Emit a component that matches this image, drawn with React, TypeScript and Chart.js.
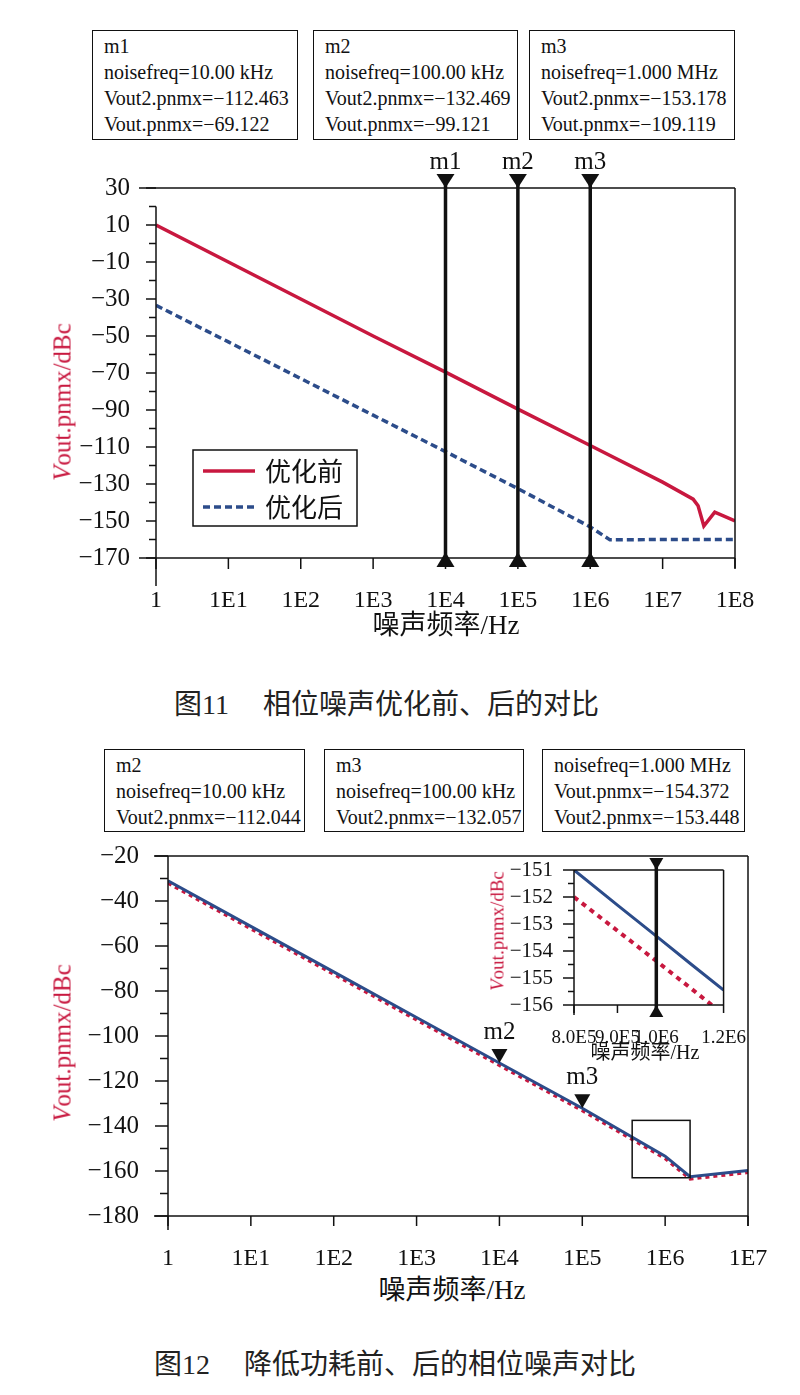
import React, { useEffect, useRef } from 'react';
import { Chart, registerables } from 'chart.js';

Chart.register(...registerables);

const SERIF = '"Liberation Serif", "Times New Roman", serif';
const MIXED = '"Liberation Serif", "Noto Sans CJK SC", serif';
const CJK = '"Noto Sans CJK SC", sans-serif';
const RED = '#c8183f';
const BLUE = '#2c4c8a';
const INK = '#111111';

// ---------------- 图11 data ----------------
const fig11FreqBefore = [1, 10, 100, 1e3, 1e4, 1e5, 1e6, 1e7, 2.64e7, 3.09e7, 3.71e7, 5.25e7, 1e8];
const fig11Before = [10, -10, -30, -50, -69.5, -89.5, -109.2, -129, -138.2, -141.8, -152.7, -145.2, -150];
const fig11FreqAfter = [1, 10, 100, 1e3, 1e4, 1e5, 1e6, 1.87e6, 1e7, 1e8];
const fig11After = [-33.4, -53.2, -73, -92.8, -112.5, -132.5, -153.2, -160.2, -160, -160];
const fig11YTicks = [30, 10, -10, -30, -50, -70, -90, -110, -130, -150, -170];
const fig11YMinor = [20, 0, -20, -40, -60, -80, -100, -120, -140, -160];
const fig11XTicks = [1, 10, 100, 1e3, 1e4, 1e5, 1e6, 1e7, 1e8];
const fig11XLabels = ['1', '1E1', '1E2', '1E3', '1E4', '1E5', '1E6', '1E7', '1E8'];
const fig11MarkerFreq = [1e4, 1e5, 1e6];
const fig11MarkerNames = ['m1', 'm2', 'm3'];
const fig11Legend = ['优化前', '优化后'];
const fig11Readouts = [
  ['m1', 'noisefreq=10.00 kHz', 'Vout2.pnmx=−112.463', 'Vout.pnmx=−69.122'],
  ['m2', 'noisefreq=100.00 kHz', 'Vout2.pnmx=−132.469', 'Vout.pnmx=−99.121'],
  ['m3', 'noisefreq=1.000 MHz', 'Vout2.pnmx=−153.178', 'Vout.pnmx=−109.119'],
];

// ---------------- 图12 data ----------------
const fig12Freq = [1, 10, 100, 1e3, 1e4, 1e5, 1e6, 2e6, 1e7];
const fig12Vout2 = [-31, -51.3, -71.5, -91.8, -112, -132.1, -153.4, -162.5, -159.8];
const fig12Vout = [-32, -52.3, -72.5, -92.8, -113, -133.1, -154.4, -163.5, -160.6];
const fig12YTicks = [-20, -40, -60, -80, -100, -120, -140, -160, -180];
const fig12YMinor = [-30, -50, -70, -90, -110, -130, -150, -170];
const fig12XTicks = [1, 10, 100, 1e3, 1e4, 1e5, 1e6, 1e7];
const fig12XLabels = ['1', '1E1', '1E2', '1E3', '1E4', '1E5', '1E6', '1E7'];
const fig12MarkerFreq = [1e4, 1e5];
const fig12MarkerVal = [-112.044, -132.057];
const fig12MarkerNames = ['m2', 'm3'];
const fig12ZoomFreq = [4e5, 2e6];
const fig12ZoomVal = [-137.5, -163];
const fig12Readouts = [
  ['m2', 'noisefreq=10.00 kHz', 'Vout2.pnmx=−112.044'],
  ['m3', 'noisefreq=100.00 kHz', 'Vout2.pnmx=−132.057'],
  ['noisefreq=1.000 MHz', 'Vout.pnmx=−154.372', 'Vout2.pnmx=−153.448'],
];

// ---------------- 图12 inset data ----------------
const insetFreq = [8e5, 9e5, 1e6, 1.1e6, 1.2e6];
const insetVout2 = [-151.0, -152.3, -153.45, -154.5, -155.45];
const insetVout = [-152.0, -153.25, -154.37, -155.4, -156.35];
const insetYTicks = [-151, -152, -153, -154, -155, -156];
const insetYMinor = [-151.5, -152.5, -153.5, -154.5, -155.5];
const insetXTicks = [8e5, 9e5, 1e6, 1.2e6];
const insetXLabels = ['8.0E5', '9.0E5', '1.0E6', '1.2E6'];
const insetMarkerFreq = 1e6;

const minus = (v: number) => String(v).replace('-', '−');
const pts = (xs: number[], ys: number[]) => xs.map((x, i) => ({ x, y: ys[i] }));

function seg(ctx: CanvasRenderingContext2D, x1: number, y1: number, x2: number, y2: number) {
  ctx.beginPath();
  ctx.moveTo(x1, y1);
  ctx.lineTo(x2, y2);
  ctx.stroke();
}
function tri(ctx: CanvasRenderingContext2D, x: number, tipY: number, baseY: number, half: number) {
  ctx.beginPath();
  ctx.moveTo(x, tipY);
  ctx.lineTo(x - half, baseY);
  ctx.lineTo(x + half, baseY);
  ctx.closePath();
  ctx.fill();
}

const fig11Decor = {
  id: 'fig11Decor',
  afterDatasetsDraw(chart: any) {
    const { ctx, chartArea: a, scales } = chart;
    const x = scales.x, y = scales.y;
    ctx.save();
    ctx.strokeStyle = INK; ctx.fillStyle = INK; ctx.lineWidth = 1.5;
    seg(ctx, a.left - 17, a.top, a.right, a.top);
    seg(ctx, a.left - 17, a.bottom, a.right, a.bottom);
    seg(ctx, a.left, y.getPixelForValue(20), a.left, a.bottom + 28);
    seg(ctx, a.right, a.top, a.right, a.bottom + 10);
    fig11YTicks.forEach(v => { const p = y.getPixelForValue(v); seg(ctx, a.left - 10, p, a.left, p); });
    fig11YMinor.forEach(v => { const p = y.getPixelForValue(v); seg(ctx, a.left - 7, p, a.left, p); });
    fig11XTicks.forEach(v => { const p = x.getPixelForValue(v); seg(ctx, p, a.bottom, p, a.bottom + 11); });
    // markers
    ctx.lineWidth = 3.5;
    ctx.font = `25px ${SERIF}`; ctx.textAlign = 'center'; ctx.textBaseline = 'middle';
    fig11MarkerFreq.forEach((f, i) => {
      const p = x.getPixelForValue(f);
      seg(ctx, p, a.top - 8, p, a.bottom + 6);
      tri(ctx, p, a.top, a.top - 14, 9);
      tri(ctx, p, a.bottom - 6, a.bottom + 9, 9);
      ctx.fillText(fig11MarkerNames[i], p, a.top - 26);
    });
    // legend
    const lx = a.left + 37, ly = a.top + 262, lw = 164, lh = 76;
    ctx.fillStyle = '#ffffff';
    ctx.fillRect(lx, ly, lw, lh);
    ctx.lineWidth = 1.5; ctx.strokeStyle = INK;
    ctx.strokeRect(lx, ly, lw, lh);
    ctx.lineWidth = 3.5;
    ctx.strokeStyle = RED;
    seg(ctx, lx + 10, ly + 21, lx + 62, ly + 21);
    ctx.strokeStyle = BLUE; ctx.setLineDash([7, 4]);
    seg(ctx, lx + 10, ly + 57, lx + 62, ly + 57);
    ctx.setLineDash([]);
    ctx.fillStyle = INK; ctx.textAlign = 'left';
    ctx.font = `26px ${CJK}`;
    ctx.fillText(fig11Legend[0], lx + 72, ly + 21);
    ctx.fillText(fig11Legend[1], lx + 72, ly + 57);
    ctx.restore();
  },
};

const fig12Decor = {
  id: 'fig12Decor',
  afterDatasetsDraw(chart: any) {
    const { ctx, chartArea: a, scales } = chart;
    const x = scales.x, y = scales.y;
    ctx.save();
    ctx.strokeStyle = INK; ctx.fillStyle = INK; ctx.lineWidth = 1.5;
    seg(ctx, a.left - 14, a.top, a.right, a.top);
    seg(ctx, a.left - 14, a.bottom, a.right, a.bottom);
    seg(ctx, a.left, a.top, a.left, a.bottom + 14);
    seg(ctx, a.right, a.top, a.right, a.bottom + 10);
    fig12YTicks.forEach(v => { const p = y.getPixelForValue(v); seg(ctx, a.left - 13, p, a.left, p); });
    fig12YMinor.forEach(v => { const p = y.getPixelForValue(v); seg(ctx, a.left - 8, p, a.left, p); });
    fig12XTicks.forEach(v => { const p = x.getPixelForValue(v); seg(ctx, p, a.bottom, p, a.bottom + 10); });
    // zoom box
    const bx1 = x.getPixelForValue(fig12ZoomFreq[0]), bx2 = x.getPixelForValue(fig12ZoomFreq[1]);
    const by1 = y.getPixelForValue(fig12ZoomVal[0]), by2 = y.getPixelForValue(fig12ZoomVal[1]);
    ctx.strokeRect(bx1, by1, bx2 - bx1, by2 - by1);
    // markers
    ctx.font = `25px ${SERIF}`; ctx.textAlign = 'center'; ctx.textBaseline = 'middle';
    fig12MarkerFreq.forEach((f, i) => {
      const p = x.getPixelForValue(f);
      const t = y.getPixelForValue(fig12MarkerVal[i]);
      tri(ctx, p, t, t - 14, 8);
      ctx.fillText(fig12MarkerNames[i], p, t - 31);
    });
    ctx.restore();
  },
};

const insetDecor = {
  id: 'insetDecor',
  afterDatasetsDraw(chart: any) {
    const { ctx, chartArea: a, scales } = chart;
    const x = scales.x, y = scales.y;
    ctx.save();
    ctx.strokeStyle = INK; ctx.fillStyle = INK; ctx.lineWidth = 1.5;
    seg(ctx, a.left, a.top, a.right, a.top);
    seg(ctx, a.left, a.bottom, a.right, a.bottom);
    seg(ctx, a.left, a.top, a.left, a.bottom + 10);
    seg(ctx, a.right, a.top, a.right, a.bottom);
    insetYTicks.forEach(v => { const p = y.getPixelForValue(v); seg(ctx, a.left - 11, p, a.left, p); });
    insetYMinor.forEach(v => { const p = y.getPixelForValue(v); seg(ctx, a.left - 6, p, a.left, p); });
    insetXTicks.forEach(v => { const p = x.getPixelForValue(v); seg(ctx, p, a.bottom, p, a.bottom + 8); });
    ctx.lineWidth = 3.5;
    const p = x.getPixelForValue(insetMarkerFreq);
    seg(ctx, p, a.top - 10, p, a.bottom + 10);
    tri(ctx, p, a.top, a.top - 12, 7);
    tri(ctx, p, a.bottom, a.bottom + 12, 7);
    ctx.restore();
  },
};

const tickFont = (size: number) => ({ family: SERIF, size });

function makeFig11(): any {
  return {
    type: 'line',
    data: {
      datasets: [
        { label: fig11Legend[0], data: pts(fig11FreqBefore, fig11Before), borderColor: RED, borderWidth: 3.5, pointRadius: 0, tension: 0, fill: false },
        { label: fig11Legend[1], data: pts(fig11FreqAfter, fig11After), borderColor: BLUE, borderWidth: 3.5, borderDash: [7, 4], pointRadius: 0, tension: 0, fill: false },
      ],
    },
    options: {
      responsive: false, animation: false, devicePixelRatio: 1,
      layout: { padding: { top: 38, right: 65, left: 0, bottom: 0 } },
      plugins: { legend: { display: false }, tooltip: { enabled: false } },
      scales: {
        x: {
          type: 'logarithmic', min: 1, max: 1e8,
          grid: { display: false }, border: { display: false },
          afterBuildTicks: (s: any) => { s.ticks = fig11XTicks.map(v => ({ value: v })); },
          afterFit: (s: any) => { s.height = 72; },
          ticks: { callback: (_v: any, i: number) => fig11XLabels[i], font: tickFont(24), color: INK, padding: 20, autoSkip: false, maxRotation: 0 },
        },
        y: {
          type: 'linear', min: -170, max: 30,
          grid: { display: false }, border: { display: false },
          afterBuildTicks: (s: any) => { s.ticks = fig11YTicks.map(v => ({ value: v })); },
          afterFit: (s: any) => { s.width = 156; },
          ticks: { callback: (v: number) => minus(v), font: tickFont(25), color: INK, padding: 18, autoSkip: false },
        },
      },
    },
    plugins: [fig11Decor],
  };
}

function makeFig12(): any {
  return {
    type: 'line',
    data: {
      datasets: [
        { label: 'Vout2', data: pts(fig12Freq, fig12Vout2), borderColor: BLUE, borderWidth: 3, pointRadius: 0, tension: 0, fill: false },
        { label: 'Vout', data: pts(fig12Freq, fig12Vout), borderColor: RED, borderWidth: 3.5, borderDash: [4, 4], pointRadius: 0, tension: 0, fill: false },
      ],
    },
    options: {
      responsive: false, animation: false, devicePixelRatio: 1,
      layout: { padding: { top: 32, right: 52, left: 0, bottom: 0 } },
      plugins: { legend: { display: false }, tooltip: { enabled: false } },
      scales: {
        x: {
          type: 'logarithmic', min: 1, max: 1e7,
          grid: { display: false }, border: { display: false },
          afterBuildTicks: (s: any) => { s.ticks = fig12XTicks.map(v => ({ value: v })); },
          afterFit: (s: any) => { s.height = 54; },
          ticks: { callback: (_v: any, i: number) => fig12XLabels[i], font: tickFont(24), color: INK, padding: 20, autoSkip: false, maxRotation: 0 },
        },
        y: {
          type: 'linear', min: -180, max: -20,
          grid: { display: false }, border: { display: false },
          afterBuildTicks: (s: any) => { s.ticks = fig12YTicks.map(v => ({ value: v })); },
          afterFit: (s: any) => { s.width = 168; },
          ticks: { callback: (v: number) => minus(v), font: tickFont(25), color: INK, padding: 21, autoSkip: false },
        },
      },
    },
    plugins: [fig12Decor],
  };
}

function makeInset(): any {
  return {
    type: 'line',
    data: {
      datasets: [
        { label: 'Vout2', data: pts(insetFreq, insetVout2), borderColor: BLUE, borderWidth: 3, pointRadius: 0, tension: 0, fill: false },
        { label: 'Vout', data: pts(insetFreq, insetVout), borderColor: RED, borderWidth: 4, borderDash: [5, 5], pointRadius: 0, tension: 0, fill: false },
      ],
    },
    options: {
      responsive: false, animation: false, devicePixelRatio: 1,
      layout: { padding: { top: 30, right: 32, left: 0, bottom: 0 } },
      plugins: { legend: { display: false }, tooltip: { enabled: false } },
      scales: {
        x: {
          type: 'logarithmic', min: 8e5, max: 1.2e6,
          grid: { display: false }, border: { display: false },
          afterBuildTicks: (s: any) => { s.ticks = insetXTicks.map(v => ({ value: v })); },
          afterFit: (s: any) => { s.height = 65; },
          ticks: { callback: (_v: any, i: number) => insetXLabels[i], font: tickFont(19), color: INK, padding: 14, autoSkip: false, maxRotation: 0 },
        },
        y: {
          type: 'linear', min: -156, max: -151,
          grid: { display: false }, border: { display: false },
          afterBuildTicks: (s: any) => { s.ticks = insetYTicks.map(v => ({ value: v })); },
          afterFit: (s: any) => { s.width = 104; },
          ticks: { callback: (v: number) => minus(v), font: tickFont(21), color: INK, padding: 13, autoSkip: false },
        },
      },
    },
    plugins: [insetDecor],
  };
}

function ChartCanvas({ make, left, top, width, height }: { make: () => any; left: number; top: number; width: number; height: number }) {
  const ref = useRef<HTMLCanvasElement | null>(null);
  useEffect(() => {
    const chart = new Chart(ref.current as HTMLCanvasElement, make());
    return () => chart.destroy();
  }, []);
  return <canvas ref={ref} width={width} height={height} style={{ position: 'absolute', left, top, width, height }} />;
}

function Readout({ lines, left, top, width, height }: { lines: string[]; left: number; top: number; width: number; height: number }) {
  return (
    <div style={{ position: 'absolute', left, top, width, height, boxSizing: 'border-box', border: `1.5px solid ${INK}`, padding: '2px 0 0 11px', fontFamily: SERIF, fontSize: 20, lineHeight: '26px', color: INK, whiteSpace: 'nowrap', background: '#fff' }}>
      {lines.map((l, i) => <div key={i}>{l}</div>)}
    </div>
  );
}

function YTitle({ cx, cy, size }: { cx: number; cy: number; size: number }) {
  return (
    <div style={{ position: 'absolute', left: cx, top: cy, width: 0, height: 0 }}>
      <div style={{ position: 'absolute', left: 0, top: 0, transform: 'translate(-50%, -50%) rotate(-90deg)', whiteSpace: 'nowrap', fontFamily: SERIF, fontSize: size, color: RED, lineHeight: 1 }}>
        <i>V</i>out.pnmx/dBc
      </div>
    </div>
  );
}

function XTitle({ cx, cy, size }: { cx: number; cy: number; size: number }) {
  return (
    <div style={{ position: 'absolute', left: cx, top: cy, width: 0, height: 0 }}>
      <div style={{ position: 'absolute', left: 0, top: 0, transform: 'translate(-50%, -50%)', whiteSpace: 'nowrap', fontFamily: MIXED, fontSize: size, color: INK, lineHeight: 1 }}>
        噪声频率/Hz
      </div>
    </div>
  );
}

function Caption({ left, cy, num, text }: { left: number; cy: number; num: string; text: string }) {
  return (
    <div style={{ position: 'absolute', left, top: cy - 17, height: 34, lineHeight: '34px', fontFamily: MIXED, fontSize: 28, color: '#222', whiteSpace: 'nowrap' }}>
      <span>{num}</span>
      <span style={{ marginLeft: 34 }}>{text}</span>
    </div>
  );
}

export default function App() {
  return (
    <div style={{ position: 'absolute', left: 0, top: 0, width: 800, height: 1395, background: '#fff', overflow: 'hidden' }}>
      {/* 图11 */}
      <Readout lines={fig11Readouts[0]} left={92} top={30} width={206} height={110} />
      <Readout lines={fig11Readouts[1]} left={313} top={30} width={205} height={110} />
      <Readout lines={fig11Readouts[2]} left={529} top={30} width={206} height={110} />
      <ChartCanvas make={makeFig11} left={0} top={150} width={800} height={480} />
      <YTitle cx={62} cy={402} size={25} />
      <XTitle cx={446} cy={625} size={27} />
      <Caption left={174} cy={705} num="图11" text="相位噪声优化前、后的对比" />

      {/* 图12 */}
      <Readout lines={fig12Readouts[0]} left={104} top={749} width={201} height={83} />
      <Readout lines={fig12Readouts[1]} left={324} top={749} width={200} height={83} />
      <Readout lines={fig12Readouts[2]} left={542} top={749} width={203} height={83} />
      <ChartCanvas make={makeFig12} left={0} top={820} width={800} height={450} />
      <ChartCanvas make={makeInset} left={470} top={840} width={290} height={230} />
      <YTitle cx={62} cy={1043} size={25} />
      <YTitle cx={497} cy={931} size={19} />
      <XTitle cx={452} cy={1290} size={27} />
      <XTitle cx={645} cy={1052} size={20} />
      <Caption left={154} cy={1365} num="图12" text="降低功耗前、后的相位噪声对比" />
    </div>
  );
}
